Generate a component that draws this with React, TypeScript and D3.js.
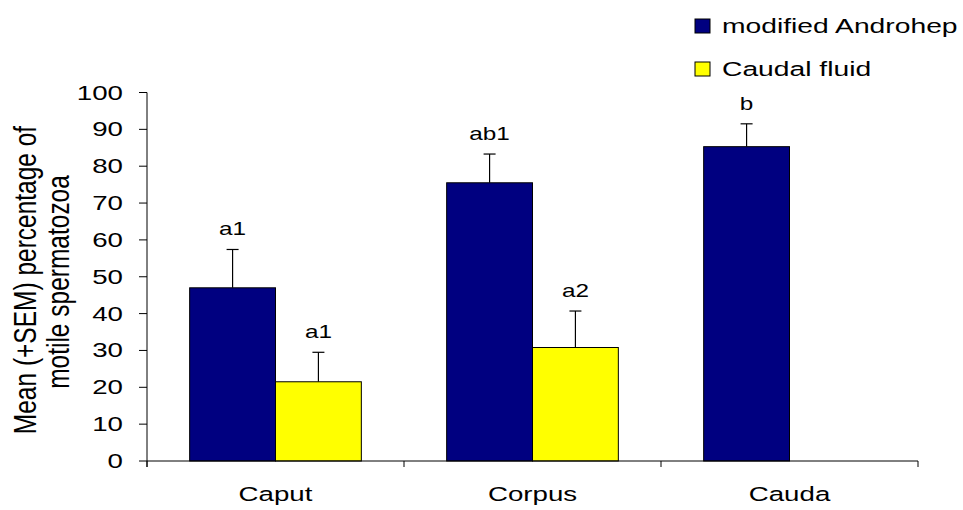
import React from "react";
import * as d3 from "d3";

const categories = ["Caput", "Corpus", "Cauda"];
const seriesNames = ["modified Androhep", "Caudal fluid"];
const seriesColors = ["#000080", "#FFFF00"];
const androhepMean = [47.0, 75.5, 85.3];
const androhepSEM = [10.4, 7.8, 6.2];
const caudalMean: (number | null)[] = [21.5, 30.8, null];
const caudalSEM: (number | null)[] = [8.0, 9.9, null];
const androhepLabels = ["a1", "ab1", "b"];
const caudalLabels = ["a1", "a2", ""];
const yTicks = [0, 10, 20, 30, 40, 50, 60, 70, 80, 90, 100];

const W = 963;
const H = 510;
const FONT = "'Liberation Sans', Arial, sans-serif";
const SX = 1.42;

export default function App() {
  const x = d3.scaleBand<string>().domain(categories).range([147, 918]).paddingInner(0).paddingOuter(0);
  const y = d3.scaleLinear().domain([0, 100]).range([461, 92.5]);
  const bandW = x.bandwidth();
  const groupW = bandW * 0.668;
  const sub = d3.scaleBand<number>().domain([0, 1]).range([0, groupW]);
  const means = [androhepMean, caudalMean];
  const sems = [androhepSEM, caudalSEM];
  const labels = [androhepLabels, caudalLabels];

  const bars: React.ReactNode[] = [];
  categories.forEach((c, ci) => {
    const gx = (x(c) as number) + (bandW - groupW) / 2;
    [0, 1].forEach((si) => {
      const v = means[si][ci];
      if (v == null) return;
      const e = sems[si][ci] as number;
      const bx = gx + (sub(si) as number);
      const bw = sub.bandwidth();
      const cx = bx + bw / 2;
      const yTop = y(v);
      const yErr = y(v + e);
      bars.push(
        <g key={`b-${ci}-${si}`}>
          <line x1={cx} x2={cx} y1={yTop} y2={yErr} stroke="#000" strokeWidth={1.2} />
          <line x1={cx - 6} x2={cx + 6} y1={yErr} y2={yErr} stroke="#000" strokeWidth={1.2} />
          <rect x={bx} y={yTop} width={bw} height={y(0) - yTop} fill={seriesColors[si]} stroke="#000" strokeWidth={1} />
          <text
            transform={`translate(${cx},${yErr - 14}) scale(1.35,1)`}
            textAnchor="middle"
            fontSize={18}
            fontFamily={FONT}
            fill="#000"
          >
            {labels[si][ci]}
          </text>
        </g>
      );
    });
  });

  const xTickPositions = [...categories.map((c) => x(c) as number), 918];

  return (
    <div style={{ position: "absolute", left: 0, top: 0 }}>
      <svg width={W} height={H} style={{ display: "block", background: "#fff" }}>
        <rect width={W} height={H} fill="#fff" />
        {bars}
        {/* y axis */}
        <line x1={147} x2={147} y1={y(100)} y2={467} stroke="#000" strokeWidth={1} />
        {yTicks.map((t) => (
          <g key={`yt-${t}`}>
            <line x1={139} x2={147} y1={y(t)} y2={y(t)} stroke="#000" strokeWidth={1} />
            <text
              transform={`translate(123,${y(t) + 7}) scale(${SX},1)`}
              textAnchor="end"
              fontSize={19.5}
              fontFamily={FONT}
              fill="#000"
            >
              {t}
            </text>
          </g>
        ))}
        {/* x axis */}
        <line x1={147} x2={918} y1={461} y2={461} stroke="#000" strokeWidth={1} />
        {xTickPositions.map((p, i) => (
          <line key={`xt-${i}`} x1={p} x2={p} y1={461} y2={467} stroke="#000" strokeWidth={1} />
        ))}
        {categories.map((c) => (
          <text
            key={`xl-${c}`}
            transform={`translate(${(x(c) as number) + bandW / 2},501) scale(${SX},1)`}
            textAnchor="middle"
            fontSize={19.5}
            fontFamily={FONT}
            fill="#000"
          >
            {c}
          </text>
        ))}
        {/* y axis title */}
        <text
          transform={`translate(36,280) rotate(-90) scale(1,1.26)`}
          textAnchor="middle"
          fontSize={24.5}
          fontFamily={FONT}
          fill="#000"
        >
          Mean (+SEM) percentage of
        </text>
        <text
          transform={`translate(69,282) rotate(-90) scale(1,1.26)`}
          textAnchor="middle"
          fontSize={24.5}
          fontFamily={FONT}
          fill="#000"
        >
          motile spermatozoa
        </text>
        {/* legend */}
        {seriesNames.map((s, i) => (
          <g key={`lg-${i}`}>
            <rect x={695} y={19 + i * 43} width={15} height={14} fill={seriesColors[i]} stroke="#000" strokeWidth={1} />
            <text
              transform={`translate(722,${33 + i * 43}) scale(1.45,1)`}
              fontSize={19.5}
              fontFamily={FONT}
              fill="#000"
            >
              {s}
            </text>
          </g>
        ))}
      </svg>
    </div>
  );
}
